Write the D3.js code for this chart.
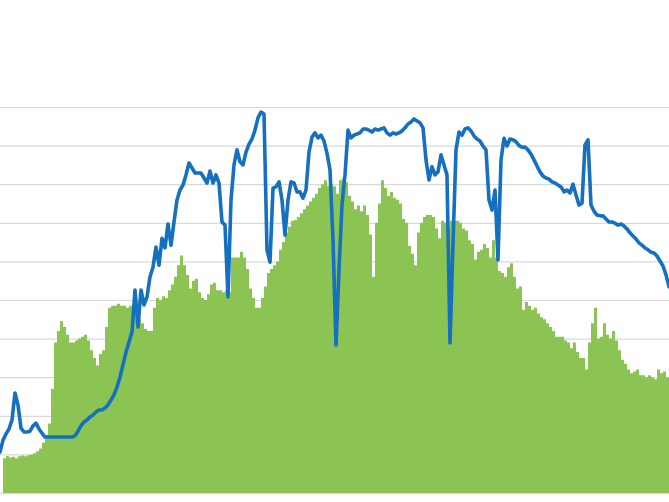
<!DOCTYPE html>
<html>
<head>
<meta charset="utf-8">
<script src="https://cdn.jsdelivr.net/npm/d3@7"></script>
<style>
  html, body { margin: 0; padding: 0; background: #fff; }
  svg { display: block; }
</style>
</head>
<body>
<svg id="chart" width="669" height="502"></svg>
<script>
// Green series (area/columns), one value per sample
const greenValues = [
  0, 9.0, 9.6, 9.2, 9.4, 9.0, 9.5, 9.7, 9.5, 9.8,
  10.0, 10.3, 10.8, 11.5, 13, 15, 18, 27, 39, 42,
  44.5, 43, 41, 39, 39, 39.5, 40, 40.5, 41, 39.5,
  37, 35, 33, 36, 37, 43, 48, 48.5, 48.5, 49,
  48.5, 48.5, 48, 48.5, 47.5, 46, 45, 44, 42.5, 42,
  42, 48, 50.5, 50, 51, 50.5, 52.5, 54, 56, 59,
  61.5, 59, 56.5, 53, 55, 55.5, 52, 50.5, 50, 51.5,
  54, 54.5, 52.5, 52.5, 52, 52.5, 52, 61, 61, 61,
  62.5, 61, 58, 53, 50.5, 48, 48, 50.5, 53.5, 57,
  58, 59, 60, 63, 65, 67.5, 69, 70.5, 70.7, 71.5,
  72.5, 73.5, 74.5, 75.5, 76.5, 77.5, 79, 80, 81, 79.5,
  80, 79.5, 77.5, 81, 81.5, 80.5, 77, 75.5, 73.5, 74.5,
  73, 74.5, 72, 67, 56, 70, 75, 81, 79, 77,
  78, 76.5, 76, 75, 71, 70, 64, 62, 59, 67.5,
  70, 71.5, 72, 72, 71.5, 68.5, 66, 70.5, 70, 68.5,
  70.5, 70.5, 70.5, 70, 68.5, 68, 65.5, 64.5, 60.5, 62.5,
  63, 64.5, 63.5, 61, 65.5, 61, 57.5, 57, 56, 58.5,
  59.5, 56, 53, 53.5, 47.5, 49.5, 48.5, 47.5, 48, 46.5,
  45.5, 45, 44, 43, 42, 40.5, 40.5, 40.5, 39.5, 39,
  37.5, 39, 36.5, 35, 35, 32, 39, 44, 48, 40,
  40.5, 44, 41, 40, 42, 39.5, 37, 34.5, 33.5, 32,
  31, 31.5, 32, 30.5, 30.5, 30, 30.5, 30, 29.5, 32,
  31, 31.5, 30, 30
];

// Blue series (line), one value per sample
const blueValues = [
  10.6, 13.7, 15.3, 16.6, 18.9, 25.9, 22.8, 16.8, 15.8, 15.8,
  16, 17.4, 18.1, 16.6, 15.5, 14.5, 14.5, 14.5, 14.5, 14.5,
  14.5, 14.5, 14.5, 14.5, 14.5, 14.8, 16, 17.4, 18.4, 18.9,
  19.7, 20.2, 21, 21.5, 21.5, 22, 22.8, 24.1, 25.4, 27.5,
  30, 33.2, 36.5, 39.1, 41.7, 52.6, 43, 52.6, 48.7, 50.8,
  56, 58.5, 63.7, 59, 66, 63.5, 69.7, 64.2, 70.2, 75.9,
  78.5, 79.8, 82.4, 85.5, 84.2, 82.9, 82.9, 82.9, 81.6, 80.3,
  83.4, 80.3, 82.4, 80.3, 70.2, 69.4, 50.8, 75.9, 85, 88.9,
  85.8, 85, 88.3, 90.4, 91.7, 94, 97.2, 98.7, 98.2, 63,
  59.8, 79, 79.3, 80.6, 75.9, 66.8, 75.9, 80.6, 80.3, 78,
  78, 76.4, 78.5, 88.3, 92.2, 93.3, 92, 92.7, 91.2, 88,
  83.7, 65.5, 38.3, 57.8, 74.6, 82.4, 94, 92, 92.7, 93,
  93.3, 94.3, 94.3, 94, 93.5, 94.3, 94, 94.3, 94.6, 93.3,
  92.7, 93.3, 93, 93.3, 93.8, 94.6, 95.6, 96.1, 96.9, 96.4,
  95.9, 94.6, 86.3, 81.1, 84.5, 82.4, 83.2, 87.6, 85, 82.4,
  38.9, 64.8, 88.9, 93.5, 92.7, 94.3, 94.6, 93.8, 92.5, 91.7,
  91.2, 89.9, 88.9, 75.9, 73.3, 78.5, 60.4, 86.3, 91.9, 89.9,
  91.7, 91.5, 91, 90, 89.6, 89.6, 88.9, 87.8, 86.3, 84.7,
  83.2, 82.1, 81.6, 81.3, 80.6, 80.3, 79.8, 79.3, 78, 78.5,
  77.7, 80, 77.2, 74.6, 75.1, 90.2, 91.5, 74.6, 73, 72,
  71.8, 71.8, 71, 70.2, 70.2, 69.9, 69.4, 69.7, 69.2, 68.4,
  67.4, 66.6, 65.8, 64.8, 64.2, 63.5, 63, 62.4, 62.2, 61.4,
  60.1, 58.8, 56.5, 53.4
];

// Gridline tick values
const gridTicks = [0, 10, 20, 30, 40, 50, 60, 70, 80, 90, 100];

const W = 669, H = 502;
const n = greenValues.length;
const samples = d3.range(n);

const x = d3.scaleLinear().domain([0, n - 1]).range([0, 669]);
const y = d3.scaleLinear().domain([0, 100]).range([493, 107]);

const svg = d3.select("#chart");
svg.append("rect").attr("width", W).attr("height", H).attr("fill", "#ffffff");

// Gridlines
const yAxis = d3.axisLeft(y).tickValues(gridTicks).tickSize(-W).tickFormat("");
const g = svg.append("g").attr("transform", "translate(0,0)").call(yAxis);
g.select(".domain").remove();
g.selectAll(".tick line").attr("stroke", "#d9d9d9").attr("stroke-width", 1.2);

// Green area (stepped like dense columns)
const area = d3.area()
  .x(i => x(i))
  .y0(y(0))
  .y1(i => y(greenValues[i]))
  .curve(d3.curveStepAfter);
svg.append("path")
  .datum(samples)
  .attr("d", area)
  .attr("fill", "#8bc453");

// Bottom axis line
const xAxis = d3.axisBottom(x).tickValues([]).tickSizeOuter(0);
const gx = svg.append("g").attr("transform", `translate(0,${y(0)})`).call(xAxis);
gx.select(".domain").attr("stroke", "#d9d9d9").attr("stroke-width", 1.2);

// Blue line
const line = d3.line()
  .x(i => x(i))
  .y(i => y(blueValues[i]))
  .curve(d3.curveLinear);
svg.append("path")
  .datum(samples)
  .attr("d", line)
  .attr("fill", "none")
  .attr("stroke", "#1570c0")
  .attr("stroke-width", 3.6)
  .attr("stroke-linejoin", "round")
  .attr("stroke-linecap", "round");
</script>
</body>
</html>
